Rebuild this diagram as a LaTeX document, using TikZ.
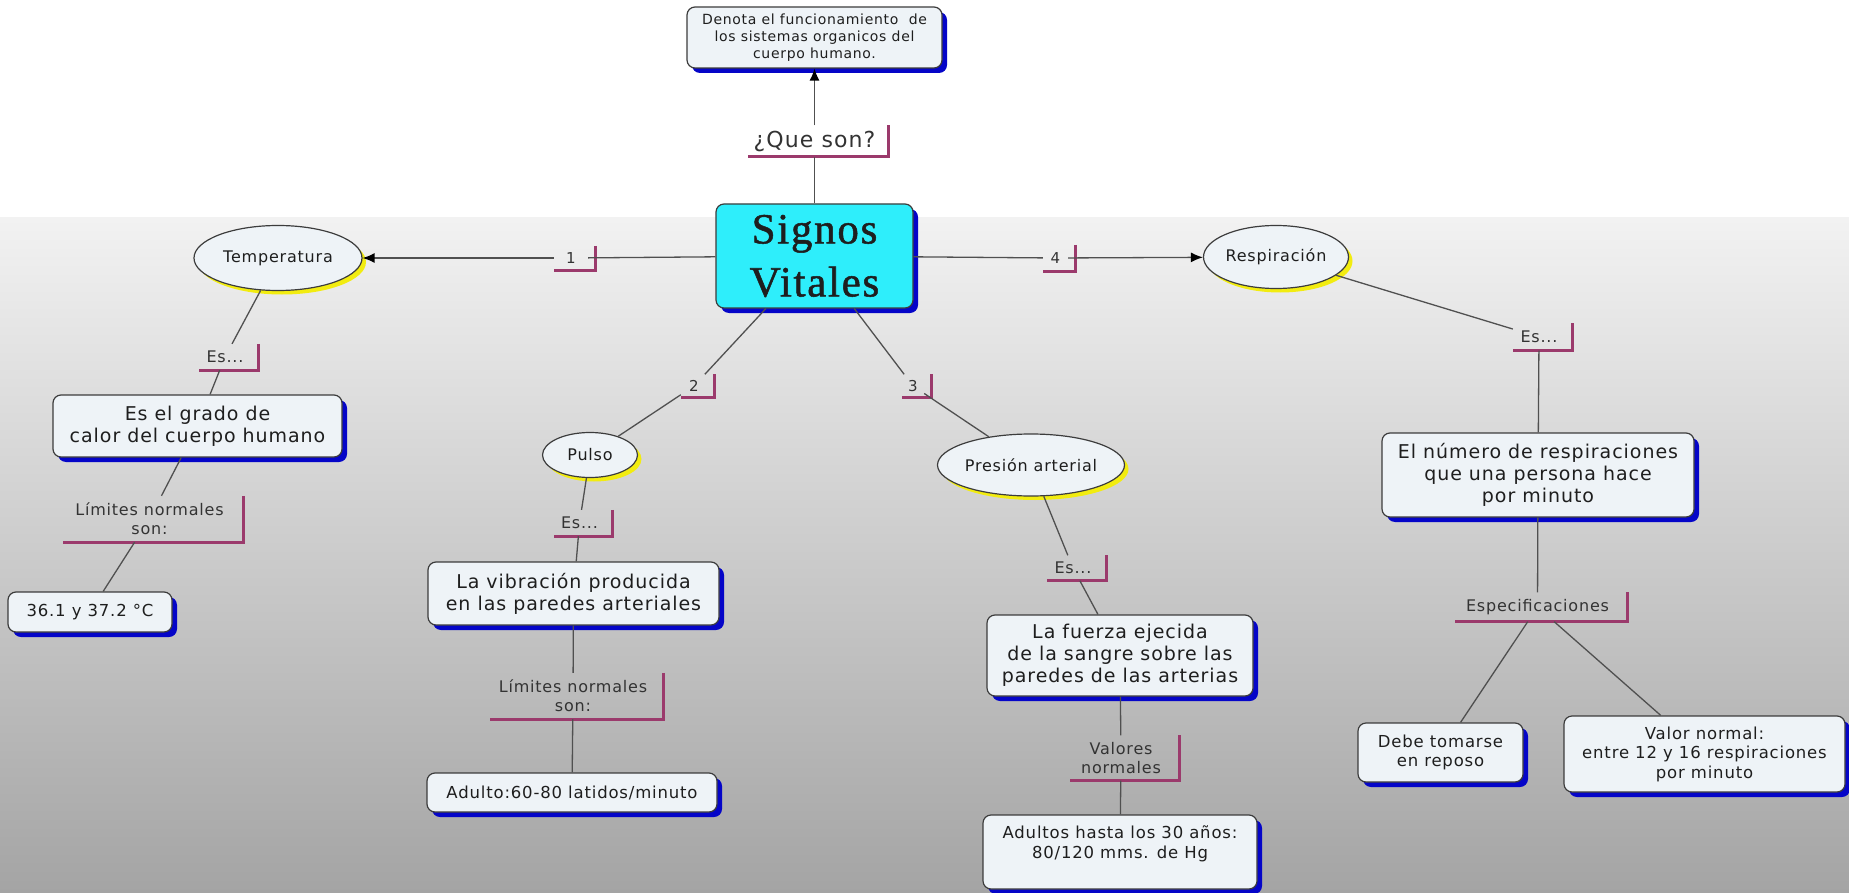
\documentclass[tikz,border=0pt]{standalone}
\usepackage{fontspec}
\setmainfont{DejaVu Sans}[LetterSpace=5]
\newfontfamily\titlefont{Liberation Serif}[LetterSpace=4, FakeBold=1.2]
\usetikzlibrary{arrows.meta, shapes.geometric, shadows}

\definecolor{bgtop}{HTML}{F2F2F2}
\definecolor{bgbot}{HTML}{A4A4A4}
\definecolor{boxfill}{HTML}{EEF3F7}
\definecolor{boxline}{HTML}{3C3C3C}
\definecolor{shadowblue}{HTML}{0505C8}
\definecolor{shadowyellow}{HTML}{F2EC10}
\definecolor{titlecyan}{HTML}{2EEEFB}
\definecolor{linkred}{HTML}{9B3A6C}
\definecolor{wire}{HTML}{505050}
\definecolor{ink}{HTML}{1E1E1E}

\begin{document}
\begin{tikzpicture}[
    x=1pt, y=-1pt,
    boxsize/.style 2 args={minimum width=#1pt, minimum height=#2pt},
    concept/.style={
        draw=boxline,
        line width=1.2pt,
        rounded corners=8pt,
        fill=boxfill,
        align=center,
        inner sep=0pt,
        text=ink,
        drop shadow={shadow xshift=5pt, shadow yshift=-5pt, fill=shadowblue, opacity=1}
    },
    bigtext/.style={font=\fontsize{19}{22}\selectfont},
    leaftext/.style={font=\fontsize{16.5}{19.5}\selectfont},
    topic/.style={
        ellipse,
        draw=boxline,
        line width=1.2pt,
        fill=boxfill,
        inner sep=0pt,
        text=ink,
        font=\fontsize{16}{19}\selectfont,
        drop shadow={shadow xshift=4pt, shadow yshift=-4pt, fill=shadowyellow, opacity=1}
    },
    linkph/.style={inner sep=0pt, align=center, text=black!80, font=\fontsize{16}{19}\selectfont},
    numph/.style={linkph, font=\fontsize{15}{18}\selectfont},
    bracket/.style={draw=linkred, line width=3pt},
    wireline/.style={draw=wire, line width=1.3pt},
    arrow/.style={wireline, -{Latex[length=12pt, width=10pt, color=black]}}
]

\useasboundingbox (0,0) rectangle (1849,893);

% Background
\fill[white] (0,0) rectangle (1849,218);
\shade[top color=bgtop, bottom color=bgbot] (0,218) rectangle (1849,893);

% Centre and definition
\node[concept, fill=titlecyan, boxsize={197}{104}, font=\titlefont\fontsize{43}{53}\selectfont] (signos) at (814.5,256) {Signos\\Vitales};
\node[concept, boxsize={255}{61}, font=\fontsize{14}{17}\selectfont] (defn) at (814.5,37.5) {Denota el funcionamiento\ \ de\\los sistemas organicos del\\cuerpo humano.};
\node[linkph, boxsize={133}{31}, font=\fontsize{22}{26}\selectfont] (que) at (814.5,141) {¿Que son?};

% Numbered links
\node[numph, boxsize={34}{24}] (l1) at (571,258) {1};
\node[numph, boxsize={26}{23}] (l2) at (694,386) {2};
\node[numph, boxsize={22}{23}] (l3) at (913,386) {3};
\node[numph, boxsize={25}{26}] (l4) at (1055.5,258) {4};

% The four signs
\node[topic, boxsize={168}{65}] (temp) at (278,258) {Temperatura};
\node[topic, boxsize={95}{45}] (pulso) at (590,455) {Pulso};
\node[topic, boxsize={184}{62}] (presion) at (1031,465) {Presión arterial};
\node[topic, boxsize={145}{63}] (resp) at (1276,257) {Respiración};

% Temperatura branch
\node[linkph, boxsize={52}{26}] (es1) at (225,357) {Es...};
\node[concept, bigtext, boxsize={289}{62}] (grado) at (197.5,426) {Es el grado de\\calor del cuerpo humano};
\node[linkph, boxsize={173}{46}] (lim1) at (149.5,519) {Límites normales\\son:};
\node[concept, leaftext, boxsize={164}{40}] (t361) at (90,612) {36.1 y 37.2 °C};

% Pulso branch
\node[linkph, boxsize={51}{26}] (es2) at (579.5,523) {Es...};
\node[concept, bigtext, boxsize={291}{63}] (vib) at (573.5,593.5) {La vibración producida\\en las paredes arteriales};
\node[linkph, boxsize={166}{46}] (lim2) at (573,696) {Límites normales\\son:};
\node[concept, leaftext, boxsize={290}{39}] (adulto) at (572,792.5) {Adulto:60-80 latidos/minuto};

% Presion branch
\node[linkph, boxsize={52}{25}] (es3) at (1073,568) {Es...};
\node[concept, bigtext, boxsize={266}{81}] (fuerza) at (1120,655.5) {La fuerza ejecida\\de la sangre sobre las\\paredes de las arterias};
\node[linkph, boxsize={102}{45}] (val) at (1121,758) {Valores\\normales};
\node[concept, leaftext, boxsize={274}{74}] (adultos) at (1120,852) {Adultos hasta los 30 años:\\80/120 mms. de Hg\\\mbox{}};

% Respiracion branch
\node[linkph, boxsize={52}{27}] (es4) at (1539,337) {Es...};
\node[concept, bigtext, boxsize={312}{84}] (numero) at (1538,475) {El número de respiraciones\\que una persona hace\\por minuto};
\node[linkph, boxsize={165}{29}] (espec) at (1537.5,607) {Especificaciones};
\node[concept, leaftext, boxsize={165}{59}] (debe) at (1440.5,752.5) {Debe tomarse\\en reposo};
\node[concept, leaftext, boxsize={281}{76}] (valor) at (1704.5,754) {Valor normal:\\entre 12 y 16 respiraciones\\por minuto};

% Brackets of the linking phrases
\foreach \lp in {que,l1,l2,l3,l4,es1,lim1,es2,lim2,es3,val,es4,espec}
    \draw[bracket] ([xshift=7pt]\lp.north east) |- (\lp.south west);

% Connectors
\draw[wireline] (signos) -- (que);
\draw[arrow] (que) -- (defn);
\draw[wireline] (signos) -- (l1);
\draw[arrow] (l1) -- (temp);
\draw[wireline] (signos) -- (l4);
\draw[arrow] (l4) -- (resp);
\draw[wireline] (signos) -- (l2);
\draw[wireline] (l2) -- (pulso);
\draw[wireline] (signos) -- (l3);
\draw[wireline] (l3) -- (presion);

\draw[wireline] (temp) -- (es1);
\draw[wireline] (es1) -- (grado);
\draw[wireline] (grado) -- (lim1);
\draw[wireline] (lim1) -- (t361);

\draw[wireline] (pulso) -- (es2);
\draw[wireline] (es2) -- (vib);
\draw[wireline] (vib) -- (lim2);
\draw[wireline] (lim2) -- (adulto);

\draw[wireline] (presion) -- (es3);
\draw[wireline] (es3) -- (fuerza);
\draw[wireline] (fuerza) -- (val);
\draw[wireline] (val) -- (adultos);

\draw[wireline] (resp) -- (es4);
\draw[wireline] (es4) -- (numero);
\draw[wireline] (numero) -- (espec);
\draw[wireline] (espec) -- (debe);
\draw[wireline] (espec) -- (valor);

\end{tikzpicture}
\end{document}
